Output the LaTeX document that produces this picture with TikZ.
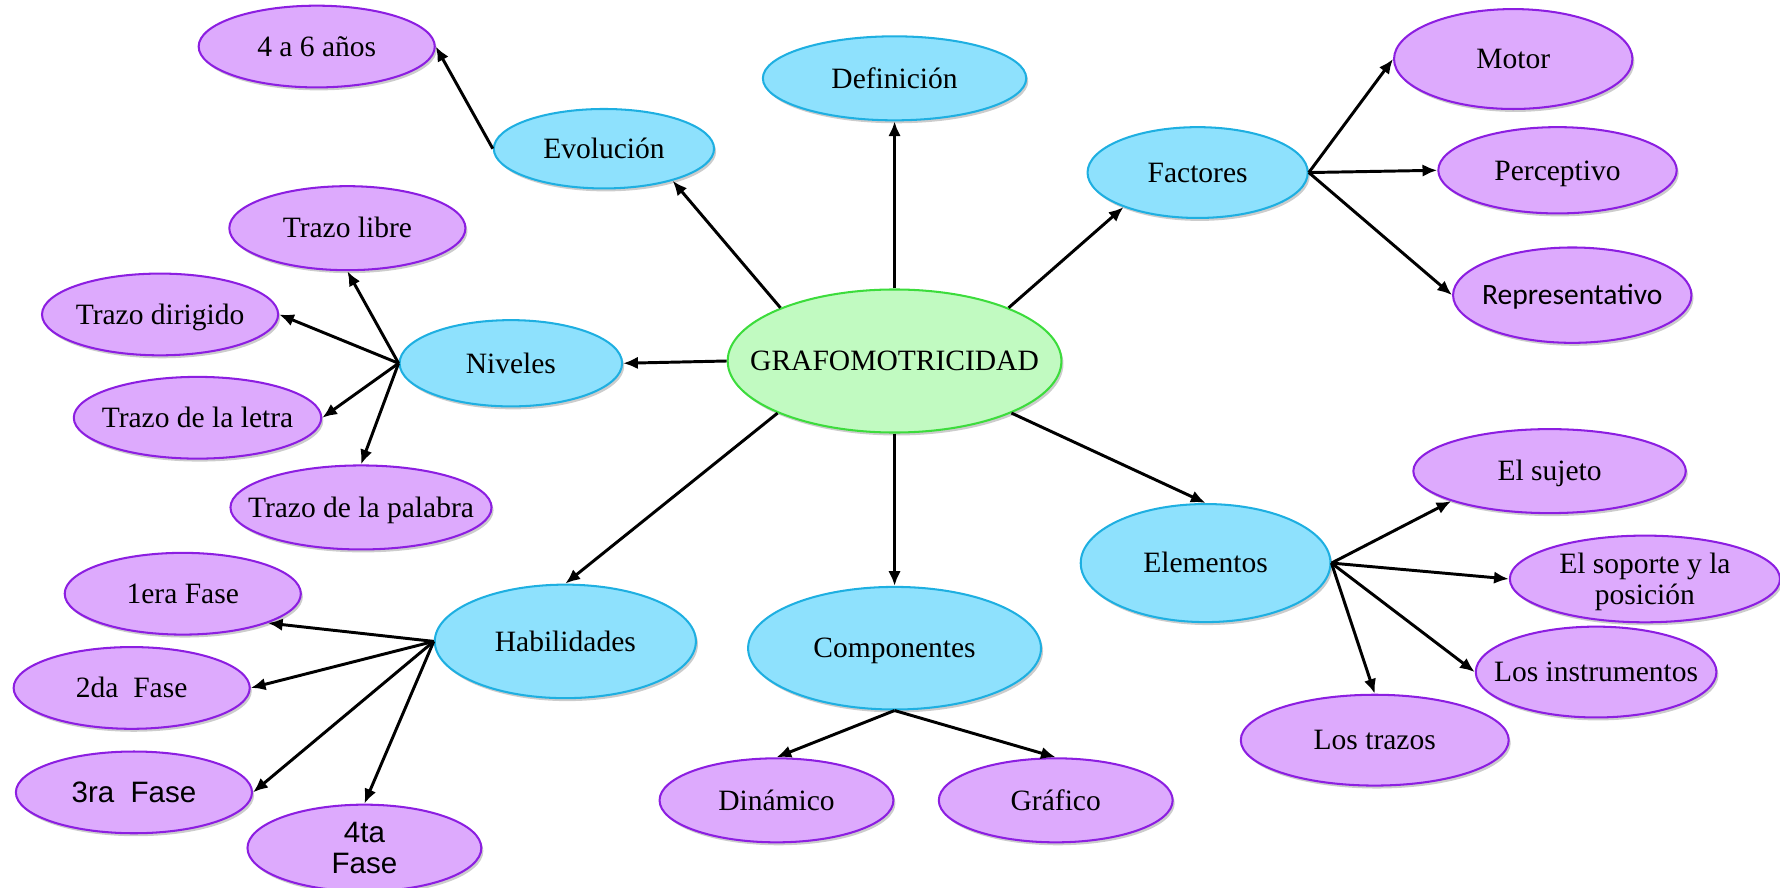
\documentclass[tikz,border=0pt]{standalone}
\usepackage{fontspec}
\setmainfont{Liberation Serif}
\newfontfamily\arial{Liberation Sans}
\newfontfamily\calibri{Carlito}
\usepackage{tikz}
\usetikzlibrary{shapes.geometric}
\usetikzlibrary{shadows}
\usetikzlibrary{arrows.meta}

\definecolor{fondoazul}{RGB}{142,225,253}
\definecolor{bordeazul}{RGB}{30,175,225}
\definecolor{fondolila}{RGB}{221,170,253}
\definecolor{bordelila}{RGB}{140,30,225}
\definecolor{fondoverde}{RGB}{193,250,193}
\definecolor{bordeverde}{RGB}{60,220,60}

\newcommand{\tx}[1]{\makebox[0pt]{\raisebox{-1.6pt}[\height][\depth]{\begin{tabular}{@{}c@{}}#1\end{tabular}}}}

\tikzset{
	burbuja/.style={ellipse, inner sep=0pt, line width=0.9pt,
		drop shadow={shadow xshift=0.9pt, shadow yshift=-1.3pt, fill=black!40}},
	azul/.style={burbuja, draw=bordeazul, fill=fondoazul},
	lila/.style={burbuja, draw=bordelila, fill=fondolila},
	verde/.style={burbuja, draw=bordeverde, fill=fondoverde},
	tam/.style 2 args={minimum width=#1pt, minimum height=#2pt},
	flecha/.style={line width=1.3pt, -{Latex[length=6.5pt, width=5.5pt]}},
}

\begin{document}
\begin{tikzpicture}[x=0.5pt, y=-0.5pt, font=\fontsize{13}{13.5}\selectfont]
	
	\useasboundingbox (0,0) rectangle (1568,782);
	
	% centro
	\node [verde, tam={147}{63}] (grafo) at (788,318) {\tx{GRAFOMOTRICIDAD}};
	
	% ramas principales
	\node [azul, tam={116}{37}] (def) at (788,69) {\tx{Definición}};
	\node [azul, tam={97}{35}] (evo) at (532,131) {\tx{Evolución}};
	\node [azul, tam={97}{40}] (fac) at (1055,152) {\tx{Factores}};
	\node [azul, tam={98}{38}] (niv) at (450,320) {\tx{Niveles}};
	\node [azul, tam={115}{50}] (hab) at (498,565) {\tx{Habilidades}};
	\node [azul, tam={129}{54}] (comp) at (788,571) {\tx{Componentes}};
	\node [azul, tam={110}{52}] (ele) at (1062,496) {\tx{Elementos}};
	
	% evolucion
	\node [lila, tam={104}{36}] (anos) at (279,41) {\tx{4 a 6 años}};
	
	% factores
	\node [lila, tam={105}{44}] (motor) at (1333,52) {\tx{Motor}};
	\node [lila, tam={105}{38}] (perc) at (1372,150) {\tx{Perceptivo}};
	\node [lila, tam={105}{42}] (repr) at (1385,260) {\tx{\calibri Representativo}};
	
	% niveles
	\node [lila, tam={104}{37}] (libre) at (306,201) {\tx{Trazo libre}};
	\node [lila, tam={104}{36}] (dirig) at (141,277) {\tx{Trazo dirigido}};
	\node [lila, tam={109}{36}] (letra) at (174,368) {\tx{Trazo de la letra}};
	\node [lila, tam={115}{37}] (palab) at (318,447) {\tx{Trazo de la palabra}};
	
	% habilidades
	\node [lila, tam={104}{36}] (f1) at (161,523) {\tx{1era Fase}};
	\node [lila, tam={104}{36}] (f2) at (116,606) {\tx{2da\ \ Fase}};
	\node [lila, tam={104}{36}] (f3) at (118,698) {\tx{\arial 3ra\ \ Fase}};
	\node [lila, tam={103}{35}] (f4) at (321,747) {\tx{\arial 4ta\\\arial Fase}};
	
	% componentes
	\node [lila, tam={103}{37}] (din) at (684,705) {\tx{Dinámico}};
	\node [lila, tam={103}{37}] (graf) at (930,705) {\tx{Gráfico}};
	
	% elementos
	\node [lila, tam={120}{37}] (suj) at (1365,415) {\tx{El sujeto}};
	\node [lila, tam={119}{36}] (sop) at (1449,510) {\tx{El soporte y la\\posición}};
	\node [lila, tam={106}{40}] (inst) at (1406,592) {\tx{Los instrumentos}};
	\node [lila, tam={118}{40}] (ltraz) at (1211,652) {\tx{Los trazos}};
	
	% flechas desde el centro
	\draw [flecha] (grafo.north)--(def.south);
	\draw [flecha] (grafo.155)--(evo.-25);
	\draw [flecha] (grafo.25)--(fac.205);
	\draw [flecha] (grafo.west)--(niv.east);
	\draw [flecha] (grafo.204)--(hab.north);
	\draw [flecha] (grafo.south)--(comp.north);
	\draw [flecha] (grafo.-24)--(ele.north);
	
	% flechas secundarias
	\draw [flecha] (evo.west)--(anos.east);
	
	\draw [flecha] (fac.east)--(motor.west);
	\draw [flecha] (fac.east)--(perc.west);
	\draw [flecha] (fac.east)--(repr.west);
	
	\draw [flecha] (niv.west)--(libre.south);
	\draw [flecha] (niv.west)--(dirig.east);
	\draw [flecha] (niv.west)--(letra.east);
	\draw [flecha] (niv.west)--(palab.north);
	
	\draw [flecha] (hab.west)--(f1.-19);
	\draw [flecha] (hab.west)--(f2.east);
	\draw [flecha] (hab.west)--(f3.east);
	\draw [flecha] (hab.west)--(f4.north);
	
	\draw [flecha] (comp.south)--(din.north);
	\draw [flecha] (comp.south)--(graf.north);
	
	\draw [flecha] (ele.east)--(suj.197);
	\draw [flecha] (ele.east)--(sop.west);
	\draw [flecha] (ele.east)--(inst.west);
	\draw [flecha] (ele.east)--(ltraz.north);
	
\end{tikzpicture}
\end{document}
